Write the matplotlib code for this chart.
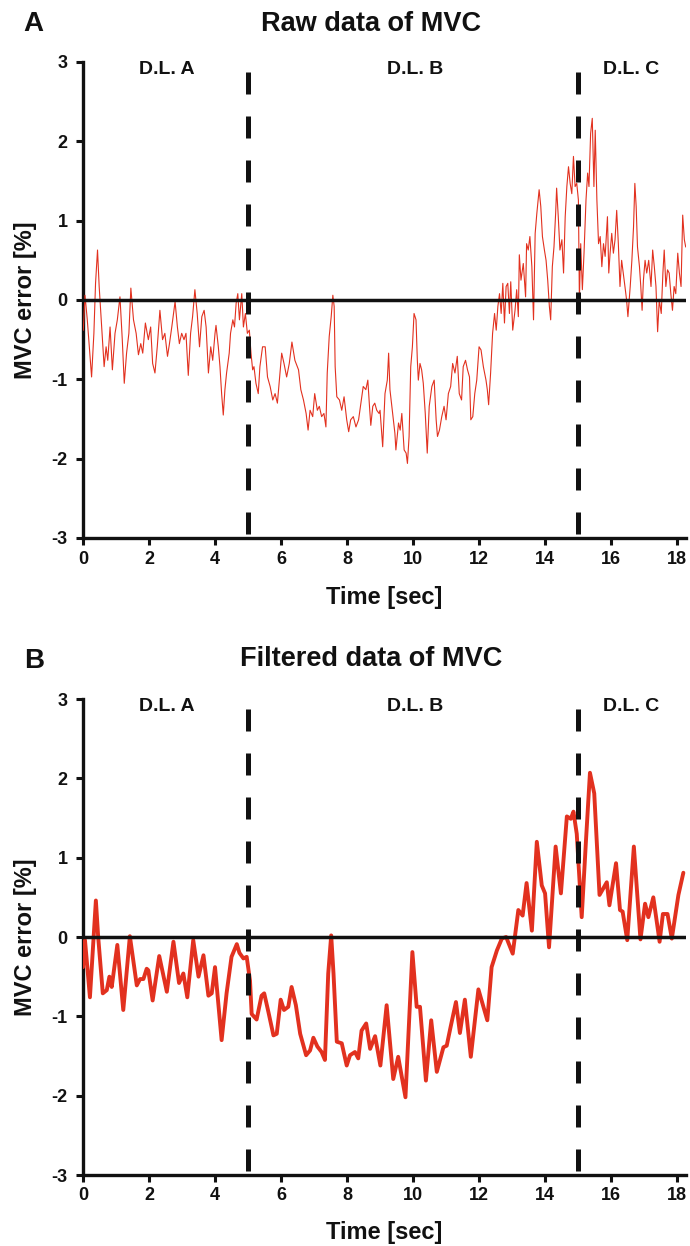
import matplotlib
matplotlib.use("Agg")
import matplotlib.pyplot as plt

plt.rcParams['font.family'] = ['Liberation Sans', 'DejaVu Sans']
plt.rcParams['font.weight'] = 'bold'

# ---------------- data ----------------
x_ticks = [0, 2, 4, 6, 8, 10, 12, 14, 16, 18]
y_ticks = [-3, -2, -1, 0, 1, 2, 3]
boundaries = [5, 15]
segment_labels = ["D.L. A", "D.L. B", "D.L. C"]
segment_label_x = [2.55, 10.05, 16.6]
titles = ["Raw data of MVC", "Filtered data of MVC"]
panel_letters = ["A", "B"]

raw_time = [
    0.01, 0.06, 0.13, 0.19, 0.26, 0.33, 0.38, 0.44, 0.49, 0.54, 0.60, 0.64, 0.70, 0.75, 0.82, 0.89,
    0.97, 1.04, 1.12, 1.19, 1.25, 1.32, 1.39, 1.45, 1.53, 1.61, 1.68, 1.75, 1.81, 1.89, 1.98, 2.05,
    2.11, 2.18, 2.25, 2.33, 2.41, 2.48, 2.56, 2.62, 2.69, 2.79, 2.86, 2.92, 2.99, 3.06, 3.12, 3.19,
    3.26, 3.32, 3.39, 3.46, 3.53, 3.60, 3.67, 3.73, 3.80, 3.87, 3.93, 4.00, 4.03, 4.10, 4.15, 4.20,
    4.25, 4.30, 4.35, 4.43, 4.47, 4.54, 4.59, 4.64, 4.69, 4.74, 4.81, 4.86, 4.92, 4.98, 5.04, 5.09,
    5.14, 5.18, 5.24, 5.31, 5.36, 5.44, 5.52, 5.59, 5.67, 5.75, 5.82, 5.89, 5.95, 6.02, 6.09, 6.17,
    6.25, 6.33, 6.42, 6.53, 6.60, 6.68, 6.76, 6.82, 6.88, 6.96, 7.02, 7.10, 7.16, 7.23, 7.30, 7.36,
    7.40, 7.46, 7.52, 7.57, 7.61, 7.64, 7.69, 7.77, 7.84, 7.91, 7.99, 8.05, 8.11, 8.19, 8.27, 8.35,
    8.42, 8.49, 8.57, 8.63, 8.68, 8.72, 8.78, 8.84, 8.90, 8.97, 9.00, 9.08, 9.15, 9.22, 9.26, 9.30,
    9.38, 9.45, 9.48, 9.56, 9.61, 9.66, 9.73, 9.79, 9.83, 9.88, 9.93, 9.98, 10.03, 10.09, 10.13, 10.16,
    10.21, 10.26, 10.31, 10.37, 10.43, 10.49, 10.57, 10.64, 10.70, 10.74, 10.80, 10.87, 10.94, 11.00,
    11.07, 11.14, 11.20, 11.27, 11.34, 11.40, 11.47, 11.52, 11.59, 11.65, 11.71, 11.75, 11.81, 11.87,
    11.93, 12.00, 12.06, 12.13, 12.21, 12.25, 12.29, 12.35, 12.41, 12.47, 12.52, 12.57, 12.62, 12.67,
    12.72, 12.77, 12.82, 12.87, 12.92, 12.96, 13.02, 13.09, 13.14, 13.19, 13.22, 13.27, 13.34, 13.41,
    13.44, 13.49, 13.54, 13.60, 13.65, 13.70, 13.75, 13.82, 13.87, 13.92, 13.98, 14.03, 14.08, 14.13,
    14.17, 14.22, 14.27, 14.32, 14.35, 14.40, 14.45, 14.51, 14.56, 14.61, 14.66, 14.71, 14.76, 14.81,
    14.86, 14.91, 14.96, 15.01, 15.04, 15.08, 15.13, 15.18, 15.24, 15.29, 15.33, 15.38, 15.43, 15.48,
    15.52, 15.57, 15.62, 15.67, 15.72, 15.77, 15.82, 15.89, 15.93, 15.97, 16.02, 16.07, 16.12, 16.17,
    16.22, 16.27, 16.32, 16.37, 16.42, 16.47, 16.51, 16.58, 16.63, 16.68, 16.72, 16.76, 16.80, 16.86,
    16.90, 16.94, 16.98, 17.03, 17.08, 17.14, 17.21, 17.26, 17.31, 17.36, 17.41, 17.46, 17.52, 17.57,
    17.61, 17.66, 17.71, 17.76, 17.81, 17.86, 17.91, 17.96, 18.02, 18.07, 18.12, 18.17, 18.22, 18.26,
]
raw_error = [
    -0.38, 0.06, -0.25, -0.59, -0.97, -0.42, 0.21, 0.63, 0.17, -0.17, -0.59, -0.84, -0.59, -0.76, -0.34, -0.88,
    -0.42, -0.25, 0.04, -0.50, -1.05, -0.67, -0.42, 0.15, -0.25, -0.42, -0.69, -0.55, -0.67, -0.29, -0.50, -0.34,
    -0.80, -0.92, -0.59, -0.13, -0.50, -0.42, -0.71, -0.55, -0.34, -0.02, -0.34, -0.55, -0.42, -0.50, -0.42, -0.95,
    -0.42, -0.21, 0.13, -0.17, -0.59, -0.21, -0.13, -0.34, -0.92, -0.59, -0.76, -0.42, -0.32, -0.59, -0.84, -1.18,
    -1.45, -1.13, -0.92, -0.67, -0.42, -0.25, -0.34, -0.04, 0.08, -0.25, 0.08, -0.34, -0.17, -0.42, -0.38, -0.67,
    -0.88, -0.84, -1.05, -1.18, -0.84, -0.59, -0.59, -0.97, -1.09, -1.26, -1.18, -1.30, -1.01, -0.67, -0.80, -0.97,
    -0.80, -0.53, -0.76, -0.88, -1.13, -1.26, -1.43, -1.64, -1.39, -1.47, -1.18, -1.39, -1.34, -1.47, -1.43, -1.60,
    -0.92, -0.46, -0.21, 0.06, -0.08, -0.84, -1.22, -1.26, -1.39, -1.22, -1.51, -1.66, -1.51, -1.47, -1.60, -1.51,
    -1.30, -1.09, -1.13, -1.01, -1.34, -1.58, -1.34, -1.30, -1.39, -1.43, -1.39, -1.85, -1.18, -1.01, -0.67, -1.13,
    -1.43, -1.68, -1.89, -1.55, -1.64, -1.43, -1.89, -1.93, -2.06, -1.72, -0.84, -0.59, -0.17, -0.25, -0.76, -1.01,
    -0.80, -0.88, -1.05, -1.43, -1.93, -1.34, -1.09, -1.01, -1.51, -1.72, -1.64, -1.47, -1.34, -1.51,
    -1.18, -1.09, -0.80, -0.92, -0.71, -1.18, -1.26, -0.84, -0.76, -0.88, -0.97, -1.51, -1.47, -1.18,
    -1.01, -0.59, -0.63, -0.84, -1.01, -1.13, -1.32, -0.92, -0.42, -0.17, -0.38, -0.08, 0.08, -0.17,
    0.21, -0.29, 0.17, 0.21, -0.17, 0.23, -0.38, -0.13, 0.13, -0.21, 0.57, 0.25, 0.46, 0.04,
    0.71, 0.63, 0.80, 0.42, -0.25, 0.84, 1.09, 1.39, 1.18, 0.80, 0.63, 0.50, 0.25, -0.08,
    -0.25, 0.42, 0.67, 1.09, 1.41, 1.05, 0.63, 0.76, 0.34, 1.05, 1.43, 1.68, 1.47, 1.34,
    1.81, 1.43, 1.47, 1.26, 0.00, 0.71, 0.13, 0.59, 1.26, 1.60, 1.43, 2.10, 2.29, 1.43,
    2.14, 1.26, 0.71, 0.80, 0.42, 0.71, 0.55, 1.05, 0.34, 0.59, 0.84, 0.59, 0.76, 1.13,
    0.71, 0.17, 0.50, 0.34, 0.17, 0.00, -0.21, 0.17, 0.50, 0.92, 1.47, 1.18, 0.67, 0.42,
    0.17, -0.13, 0.25, 0.50, 0.34, 0.50, 0.17, 0.63, 0.42, 0.17, -0.40, 0.00, -0.17, 0.34,
    0.63, 0.17, 0.38, 0.34, 0.08, -0.13, 0.17, 0.08, 0.59, 0.34, 0.17, 1.07, 0.76, 0.67,
]

filt_time = [
    0.00, 0.06, 0.21, 0.39, 0.46, 0.60, 0.72, 0.80, 0.87, 1.04, 1.22, 1.42, 1.63, 1.73, 1.83, 1.93,
    1.98, 2.11, 2.31, 2.54, 2.74, 2.91, 3.04, 3.16, 3.34, 3.50, 3.65, 3.80, 3.90, 4.00, 4.20, 4.35,
    4.50, 4.66, 4.74, 4.86, 4.96, 5.06, 5.11, 5.26, 5.41, 5.49, 5.62, 5.77, 5.87, 5.99, 6.09, 6.22,
    6.32, 6.45, 6.58, 6.76, 6.88, 6.98, 7.10, 7.23, 7.33, 7.43, 7.52, 7.59, 7.69, 7.84, 7.99, 8.09,
    8.24, 8.34, 8.44, 8.58, 8.70, 8.85, 9.01, 9.20, 9.40, 9.55, 9.77, 9.98, 10.11, 10.21, 10.39, 10.55,
    10.72, 10.92, 11.02, 11.14, 11.30, 11.42, 11.57, 11.75, 11.98, 12.25, 12.38, 12.54, 12.69, 12.82,
    13.02, 13.19, 13.32, 13.44, 13.60, 13.75, 13.90, 14.00, 14.12, 14.32, 14.48, 14.66, 14.78, 14.86,
    14.96, 15.11, 15.24, 15.36, 15.49, 15.65, 15.87, 15.95, 16.15, 16.27, 16.35, 16.49, 16.69, 16.89,
    17.03, 17.13, 17.28, 17.47, 17.57, 17.71, 17.84, 18.04, 18.19,
]
filt_error = [
    -0.38, -0.04, -0.76, 0.46, 0.00, -0.71, -0.67, -0.50, -0.63, -0.10, -0.92, 0.01, -0.61, -0.53, -0.53, -0.40,
    -0.42, -0.80, -0.24, -0.69, -0.06, -0.58, -0.46, -0.76, -0.04, -0.50, -0.23, -0.74, -0.71, -0.38, -1.30, -0.71,
    -0.25, -0.09, -0.20, -0.27, -0.25, -0.55, -0.97, -1.04, -0.74, -0.71, -0.95, -1.24, -1.22, -0.79, -0.92, -0.88,
    -0.63, -0.86, -1.22, -1.49, -1.43, -1.27, -1.38, -1.45, -1.55, -0.46, 0.02, -0.46, -1.32, -1.34, -1.62, -1.49,
    -1.45, -1.53, -1.18, -1.09, -1.41, -1.25, -1.62, -0.86, -1.79, -1.51, -2.02, -0.19, -0.88, -0.88, -1.81, -1.05,
    -1.70, -1.39, -1.37, -1.13, -0.82, -1.21, -0.79, -1.51, -0.66, -1.05, -0.38, -0.17, -0.02, 0.00,
    -0.21, 0.34, 0.27, 0.68, 0.08, 1.20, 0.65, 0.55, -0.13, 1.14, 0.55, 1.52, 1.49, 1.58,
    1.30, 0.25, 1.22, 2.07, 1.81, 0.53, 0.69, 0.40, 0.93, 0.34, 0.32, -0.04, 1.14, -0.03,
    0.42, 0.25, 0.50, -0.06, 0.29, 0.29, -0.02, 0.53, 0.81,
]

# ---------------- figure ----------------
RED = '#E2311F'
INK = '#111111'
W, H = 690, 1246
fig = plt.figure(figsize=(W / 100, H / 100), dpi=100)

axA = fig.add_axes([83 / W, 708 / H, 603 / W, 476 / H])
axB = fig.add_axes([83 / W, 71 / H, 603 / W, 476 / H])


def style(ax, xlabel_y):
    ax.set_xlim(0, 18.27)
    ax.set_ylim(-3, 3)
    for s in ['top', 'right']:
        ax.spines[s].set_visible(False)
    for s in ['left', 'bottom']:
        ax.spines[s].set_linewidth(2.4)
        ax.spines[s].set_color(INK)
    ax.set_xticks(x_ticks)
    ax.set_yticks(y_ticks)
    ax.set_xticklabels([str(v) for v in x_ticks])
    ax.set_yticklabels([str(v) for v in y_ticks])
    ax.tick_params(direction='out', length=5, width=2.2, color=INK,
                   labelsize=13, labelcolor=INK)
    ax.tick_params(axis='y', pad=6)
    ax.tick_params(axis='x', pad=4)
    for lbl in ax.get_xticklabels() + ax.get_yticklabels():
        lbl.set_fontweight('bold')
    ax.set_xlabel('Time [sec]', fontsize=17, fontweight='bold', color=INK)
    ax.set_ylabel('MVC error [%]', fontsize=17, fontweight='bold', color=INK)
    ax.xaxis.set_label_coords(0.5, xlabel_y)
    ax.xaxis.label.set_va('center')
    ax.yaxis.set_label_coords(-0.096, 0.5)
    ax.yaxis.label.set_va('center')
    ax.axhline(0, color=INK, lw=2.5, zorder=4)
    for b in boundaries:
        ax.plot([b, b], [2.87, -3], color=INK, lw=3.6, linestyle=(0, (4.4, 4.4)),
                dash_capstyle='butt', zorder=5, clip_on=False)
    for lx, lt in zip(segment_label_x, segment_labels):
        ax.text(lx, 2.91, lt, ha='center', va='center', fontsize=14,
                fontweight='bold', color=INK)


axA.plot(raw_time, raw_error, color=RED, lw=0.8, zorder=3)
style(axA, -0.126)
axB.plot(filt_time, filt_error, color=RED, lw=2.8, zorder=3,
         solid_joinstyle='round', solid_capstyle='round')
style(axB, -0.12)

fig.text(371 / W, 1 - 24 / H, titles[0], ha='center', va='center',
         fontsize=19.5, fontweight='bold', color=INK)
fig.text(371 / W, 1 - 659 / H, titles[1], ha='center', va='center',
         fontsize=19.5, fontweight='bold', color=INK)
fig.text(33 / W, 1 - 24 / H, panel_letters[0], ha='center', va='center',
         fontsize=20, fontweight='bold', color=INK)
fig.text(34 / W, 1 - 661 / H, panel_letters[1], ha='center', va='center',
         fontsize=20, fontweight='bold', color=INK)

fig.savefig('out.png', dpi=100)
